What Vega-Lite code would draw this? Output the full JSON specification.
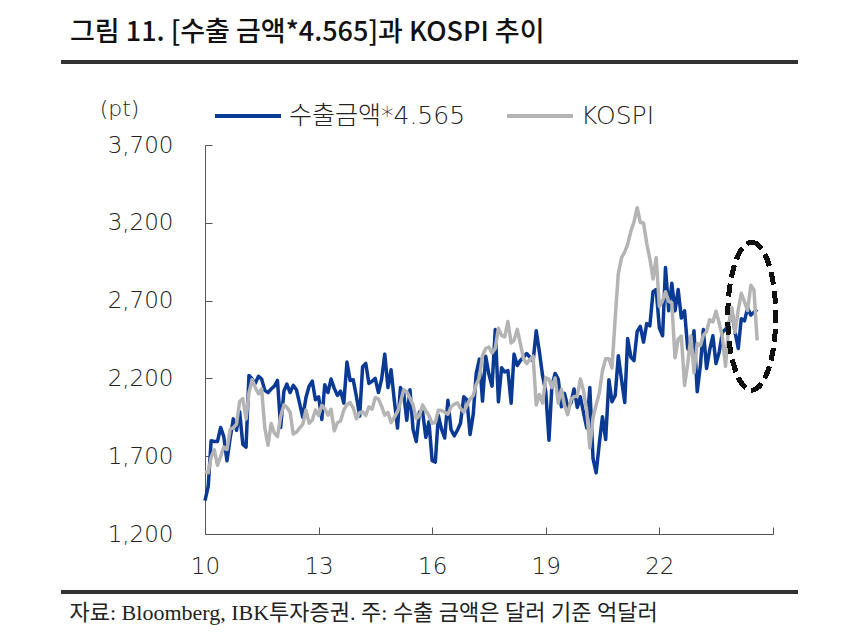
{
  "$schema": "https://vega.github.io/schema/vega-lite/v6.json",
  "width": 568,
  "height": 389,
  "autosize": {"type": "none"},
  "padding": {"left": 205, "top": 145, "right": 77, "bottom": 99},
  "background": "white",
  "config": {
    "view": {"stroke": null},
    "font": "DejaVu Sans, Noto Sans CJK KR"
  },
  "title": {
    "text": "그림 11. [수출 금액*4.565]과 KOSPI 추이",
    "anchor": "start",
    "frame": "group",
    "dx": -135,
    "dy": -10,
    "font": "Noto Sans CJK KR",
    "fontSize": 27,
    "fontWeight": 500,
    "color": "#111111"
  },
  "data": {
    "values": [
      {"date": "2010-01-01", "export": 1415, "KOSPI": 1602},
      {"date": "2010-02-01", "export": 1506, "KOSPI": 1594},
      {"date": "2010-03-01", "export": 1799, "KOSPI": 1693},
      {"date": "2010-04-01", "export": 1794, "KOSPI": 1741},
      {"date": "2010-05-01", "export": 1794, "KOSPI": 1641},
      {"date": "2010-06-01", "export": 1885, "KOSPI": 1698},
      {"date": "2010-07-01", "export": 1826, "KOSPI": 1759},
      {"date": "2010-08-01", "export": 1671, "KOSPI": 1743},
      {"date": "2010-09-01", "export": 1817, "KOSPI": 1873},
      {"date": "2010-10-01", "export": 1940, "KOSPI": 1883},
      {"date": "2010-11-01", "export": 1867, "KOSPI": 1905},
      {"date": "2010-12-01", "export": 1986, "KOSPI": 2051},
      {"date": "2011-01-01", "export": 1776, "KOSPI": 2070},
      {"date": "2011-02-01", "export": 1758, "KOSPI": 1939},
      {"date": "2011-03-01", "export": 2219, "KOSPI": 2107},
      {"date": "2011-04-01", "export": 2196, "KOSPI": 2192},
      {"date": "2011-05-01", "export": 2168, "KOSPI": 2142},
      {"date": "2011-06-01", "export": 2214, "KOSPI": 2101},
      {"date": "2011-07-01", "export": 2196, "KOSPI": 2133},
      {"date": "2011-08-01", "export": 2123, "KOSPI": 1880},
      {"date": "2011-09-01", "export": 2109, "KOSPI": 1770},
      {"date": "2011-10-01", "export": 2132, "KOSPI": 1910},
      {"date": "2011-11-01", "export": 2150, "KOSPI": 1848},
      {"date": "2011-12-01", "export": 2187, "KOSPI": 1826},
      {"date": "2012-01-01", "export": 1885, "KOSPI": 1956},
      {"date": "2012-02-01", "export": 2118, "KOSPI": 2030},
      {"date": "2012-03-01", "export": 2164, "KOSPI": 2014},
      {"date": "2012-04-01", "export": 2109, "KOSPI": 1982},
      {"date": "2012-05-01", "export": 2155, "KOSPI": 1843},
      {"date": "2012-06-01", "export": 2127, "KOSPI": 1854},
      {"date": "2012-07-01", "export": 2041, "KOSPI": 1881},
      {"date": "2012-08-01", "export": 1949, "KOSPI": 1905},
      {"date": "2012-09-01", "export": 2077, "KOSPI": 1996},
      {"date": "2012-10-01", "export": 2150, "KOSPI": 1912},
      {"date": "2012-11-01", "export": 2182, "KOSPI": 1933},
      {"date": "2012-12-01", "export": 2063, "KOSPI": 1997},
      {"date": "2013-01-01", "export": 2082, "KOSPI": 1962},
      {"date": "2013-02-01", "export": 1936, "KOSPI": 2027},
      {"date": "2013-03-01", "export": 2159, "KOSPI": 2005},
      {"date": "2013-04-01", "export": 2109, "KOSPI": 1964},
      {"date": "2013-05-01", "export": 2196, "KOSPI": 2001},
      {"date": "2013-06-01", "export": 2136, "KOSPI": 1863},
      {"date": "2013-07-01", "export": 2091, "KOSPI": 1915},
      {"date": "2013-08-01", "export": 2118, "KOSPI": 1926},
      {"date": "2013-09-01", "export": 2041, "KOSPI": 1997},
      {"date": "2013-10-01", "export": 2305, "KOSPI": 2031},
      {"date": "2013-11-01", "export": 2187, "KOSPI": 2045},
      {"date": "2013-12-01", "export": 2191, "KOSPI": 2011},
      {"date": "2014-01-01", "export": 2082, "KOSPI": 1941},
      {"date": "2014-02-01", "export": 1958, "KOSPI": 1980},
      {"date": "2014-03-01", "export": 2273, "KOSPI": 1986},
      {"date": "2014-04-01", "export": 2296, "KOSPI": 1962},
      {"date": "2014-05-01", "export": 2168, "KOSPI": 2017},
      {"date": "2014-06-01", "export": 2182, "KOSPI": 2002},
      {"date": "2014-07-01", "export": 2200, "KOSPI": 2076},
      {"date": "2014-08-01", "export": 2109, "KOSPI": 2068},
      {"date": "2014-09-01", "export": 2196, "KOSPI": 2020},
      {"date": "2014-10-01", "export": 2356, "KOSPI": 1964},
      {"date": "2014-11-01", "export": 2141, "KOSPI": 1981},
      {"date": "2014-12-01", "export": 2255, "KOSPI": 1916},
      {"date": "2015-01-01", "export": 2059, "KOSPI": 1949},
      {"date": "2015-02-01", "export": 1881, "KOSPI": 1986},
      {"date": "2015-03-01", "export": 2141, "KOSPI": 2041},
      {"date": "2015-04-01", "export": 2109, "KOSPI": 2127},
      {"date": "2015-05-01", "export": 1931, "KOSPI": 2115},
      {"date": "2015-06-01", "export": 2127, "KOSPI": 2074},
      {"date": "2015-07-01", "export": 1872, "KOSPI": 2030},
      {"date": "2015-08-01", "export": 1794, "KOSPI": 1941},
      {"date": "2015-09-01", "export": 1986, "KOSPI": 1963},
      {"date": "2015-10-01", "export": 1986, "KOSPI": 2029},
      {"date": "2015-11-01", "export": 1821, "KOSPI": 1992},
      {"date": "2015-12-01", "export": 1922, "KOSPI": 1961},
      {"date": "2016-01-01", "export": 1671, "KOSPI": 1912},
      {"date": "2016-02-01", "export": 1662, "KOSPI": 1917},
      {"date": "2016-03-01", "export": 1963, "KOSPI": 1996},
      {"date": "2016-04-01", "export": 1872, "KOSPI": 1994},
      {"date": "2016-05-01", "export": 1817, "KOSPI": 1983},
      {"date": "2016-06-01", "export": 2059, "KOSPI": 1970},
      {"date": "2016-07-01", "export": 1872, "KOSPI": 2016},
      {"date": "2016-08-01", "export": 1831, "KOSPI": 2034},
      {"date": "2016-09-01", "export": 1867, "KOSPI": 2043},
      {"date": "2016-10-01", "export": 1913, "KOSPI": 2008},
      {"date": "2016-11-01", "export": 2082, "KOSPI": 1983},
      {"date": "2016-12-01", "export": 2063, "KOSPI": 2026},
      {"date": "2017-01-01", "export": 1840, "KOSPI": 2067},
      {"date": "2017-02-01", "export": 1972, "KOSPI": 2091},
      {"date": "2017-03-01", "export": 2232, "KOSPI": 2160},
      {"date": "2017-04-01", "export": 2324, "KOSPI": 2205},
      {"date": "2017-05-01", "export": 2054, "KOSPI": 2347},
      {"date": "2017-06-01", "export": 2342, "KOSPI": 2392},
      {"date": "2017-07-01", "export": 2228, "KOSPI": 2402},
      {"date": "2017-08-01", "export": 2150, "KOSPI": 2363},
      {"date": "2017-09-01", "export": 2515, "KOSPI": 2394},
      {"date": "2017-10-01", "export": 2050, "KOSPI": 2523},
      {"date": "2017-11-01", "export": 2269, "KOSPI": 2476},
      {"date": "2017-12-01", "export": 2241, "KOSPI": 2467},
      {"date": "2018-01-01", "export": 2251, "KOSPI": 2566},
      {"date": "2018-02-01", "export": 2041, "KOSPI": 2427},
      {"date": "2018-03-01", "export": 2356, "KOSPI": 2445},
      {"date": "2018-04-01", "export": 2283, "KOSPI": 2515},
      {"date": "2018-05-01", "export": 2315, "KOSPI": 2423},
      {"date": "2018-06-01", "export": 2337, "KOSPI": 2326},
      {"date": "2018-07-01", "export": 2360, "KOSPI": 2295},
      {"date": "2018-08-01", "export": 2337, "KOSPI": 2322},
      {"date": "2018-09-01", "export": 2310, "KOSPI": 2343},
      {"date": "2018-10-01", "export": 2506, "KOSPI": 2029},
      {"date": "2018-11-01", "export": 2369, "KOSPI": 2097},
      {"date": "2018-12-01", "export": 2219, "KOSPI": 2041},
      {"date": "2019-01-01", "export": 2114, "KOSPI": 2204},
      {"date": "2019-02-01", "export": 1803, "KOSPI": 2195},
      {"date": "2019-03-01", "export": 2150, "KOSPI": 2141},
      {"date": "2019-04-01", "export": 2232, "KOSPI": 2203},
      {"date": "2019-05-01", "export": 2196, "KOSPI": 2041},
      {"date": "2019-06-01", "export": 2018, "KOSPI": 2130},
      {"date": "2019-07-01", "export": 2104, "KOSPI": 2025},
      {"date": "2019-08-01", "export": 2018, "KOSPI": 1967},
      {"date": "2019-09-01", "export": 2041, "KOSPI": 2063},
      {"date": "2019-10-01", "export": 2132, "KOSPI": 2083},
      {"date": "2019-11-01", "export": 2013, "KOSPI": 2087},
      {"date": "2019-12-01", "export": 2082, "KOSPI": 2197},
      {"date": "2020-01-01", "export": 1977, "KOSPI": 2119},
      {"date": "2020-02-01", "export": 1881, "KOSPI": 1987},
      {"date": "2020-03-01", "export": 2141, "KOSPI": 1754},
      {"date": "2020-04-01", "export": 1684, "KOSPI": 1947},
      {"date": "2020-05-01", "export": 1593, "KOSPI": 2030},
      {"date": "2020-06-01", "export": 1785, "KOSPI": 2108},
      {"date": "2020-07-01", "export": 1954, "KOSPI": 2249},
      {"date": "2020-08-01", "export": 1808, "KOSPI": 2326},
      {"date": "2020-09-01", "export": 2191, "KOSPI": 2327},
      {"date": "2020-10-01", "export": 2050, "KOSPI": 2267},
      {"date": "2020-11-01", "export": 2091, "KOSPI": 2591},
      {"date": "2020-12-01", "export": 2346, "KOSPI": 2873},
      {"date": "2021-01-01", "export": 2191, "KOSPI": 2976},
      {"date": "2021-02-01", "export": 2045, "KOSPI": 3013},
      {"date": "2021-03-01", "export": 2456, "KOSPI": 3061},
      {"date": "2021-04-01", "export": 2337, "KOSPI": 3147},
      {"date": "2021-05-01", "export": 2314, "KOSPI": 3204},
      {"date": "2021-06-01", "export": 2502, "KOSPI": 3297},
      {"date": "2021-07-01", "export": 2534, "KOSPI": 3202},
      {"date": "2021-08-01", "export": 2433, "KOSPI": 3199},
      {"date": "2021-09-01", "export": 2552, "KOSPI": 3068},
      {"date": "2021-10-01", "export": 2538, "KOSPI": 2970},
      {"date": "2021-11-01", "export": 2757, "KOSPI": 2839},
      {"date": "2021-12-01", "export": 2771, "KOSPI": 2977},
      {"date": "2022-01-01", "export": 2524, "KOSPI": 2663},
      {"date": "2022-02-01", "export": 2474, "KOSPI": 2699},
      {"date": "2022-03-01", "export": 2912, "KOSPI": 2757},
      {"date": "2022-04-01", "export": 2634, "KOSPI": 2695},
      {"date": "2022-05-01", "export": 2812, "KOSPI": 2685},
      {"date": "2022-06-01", "export": 2634, "KOSPI": 2332},
      {"date": "2022-07-01", "export": 2771, "KOSPI": 2451},
      {"date": "2022-08-01", "export": 2588, "KOSPI": 2472},
      {"date": "2022-09-01", "export": 2634, "KOSPI": 2155},
      {"date": "2022-10-01", "export": 2392, "KOSPI": 2293},
      {"date": "2022-11-01", "export": 2369, "KOSPI": 2472},
      {"date": "2022-12-01", "export": 2506, "KOSPI": 2236},
      {"date": "2023-01-01", "export": 2114, "KOSPI": 2425},
      {"date": "2023-02-01", "export": 2287, "KOSPI": 2412},
      {"date": "2023-03-01", "export": 2515, "KOSPI": 2477},
      {"date": "2023-04-01", "export": 2264, "KOSPI": 2501},
      {"date": "2023-05-01", "export": 2383, "KOSPI": 2577},
      {"date": "2023-06-01", "export": 2474, "KOSPI": 2564},
      {"date": "2023-07-01", "export": 2296, "KOSPI": 2632},
      {"date": "2023-08-01", "export": 2369, "KOSPI": 2556},
      {"date": "2023-09-01", "export": 2497, "KOSPI": 2465},
      {"date": "2023-10-01", "export": 2515, "KOSPI": 2277},
      {"date": "2023-11-01", "export": 2547, "KOSPI": 2535},
      {"date": "2023-12-01", "export": 2634, "KOSPI": 2655},
      {"date": "2024-01-01", "export": 2497, "KOSPI": 2497},
      {"date": "2024-02-01", "export": 2392, "KOSPI": 2642},
      {"date": "2024-03-01", "export": 2584, "KOSPI": 2747},
      {"date": "2024-04-01", "export": 2570, "KOSPI": 2692},
      {"date": "2024-05-01", "export": 2652, "KOSPI": 2636},
      {"date": "2024-06-01", "export": 2607, "KOSPI": 2798},
      {"date": "2024-07-01", "export": 2625, "KOSPI": 2770},
      {"date": "2024-08-01", "export": 2643, "KOSPI": 2445}
    ]
  },
  "transform": [
    {"fold": ["export", "KOSPI"], "as": ["series", "value"]}
  ],
  "layer": [
    {
      "transform": [{"filter": "datum.series === 'export'"}],
      "mark": {"type": "line", "strokeWidth": 3.5, "strokeJoin": "round"},
      "encoding": {
        "x": {
          "field": "date",
          "type": "temporal",
          "scale": {"type": "utc", "domain": [{"year": 2010, "month": 1, "date": 1, "utc": true}, {"year": 2025, "month": 1, "date": 1, "utc": true}]},
          "axis": {
            "values": [
              {"year": 2010, "month": 1, "date": 1, "utc": true},
              {"year": 2013, "month": 1, "date": 1, "utc": true},
              {"year": 2016, "month": 1, "date": 1, "utc": true},
              {"year": 2019, "month": 1, "date": 1, "utc": true},
              {"year": 2022, "month": 1, "date": 1, "utc": true},
              {"year": 2025, "month": 1, "date": 1, "utc": true}
            ],
            "labelExpr": "utcyear(datum.value) >= 2025 ? '' : '' + (utcyear(datum.value) - 2000)",
            "labelFont": "DejaVu Sans",
            "labelFontSize": 23,
            "labelFontWeight": 300,
            "labelColor": "#222222",
            "labelPadding": 28,
            "labelFlush": false,
            "labelOverlap": false,
            "tickSize": -7,
            "tickColor": "#555555",
            "domainColor": "#555555",
            "grid": false,
            "title": "자료: Bloomberg, IBK투자증권. 주: 수출 금액은 달러 기준 억달러",
            "titleFont": "Liberation Serif, Noto Sans CJK KR",
            "titleFontSize": 22,
            "titleFontWeight": "normal",
            "titleColor": "#222222",
            "titleAlign": "left",
            "titleBaseline": "middle",
            "titleX": -136,
            "titleY": 78
          }
        },
        "y": {
          "field": "value",
          "type": "quantitative",
          "scale": {"domain": [1200, 3700], "zero": false, "nice": false},
          "axis": {
            "values": [1200, 1700, 2200, 2700, 3200, 3700],
            "labelExpr": "format(datum.value, ',')",
            "labelFont": "DejaVu Sans",
            "labelFontSize": 23,
            "labelFontWeight": 300,
            "labelColor": "#222222",
            "labelPadding": 39,
            "tickSize": -7,
            "tickColor": "#555555",
            "domainColor": "#555555",
            "grid": false,
            "title": "(pt)",
            "titleFont": "DejaVu Sans",
            "titleAngle": 0,
            "titleAlign": "center",
            "titleBaseline": "middle",
            "titleX": -86,
            "titleY": -37,
            "titleFontSize": 22,
            "titleFontWeight": 300,
            "titleColor": "#222222"
          }
        },
        "color": {
          "field": "series",
          "type": "nominal",
          "scale": {"domain": ["export", "KOSPI"], "range": ["#0a3a94", "#b4b4b4"]},
          "legend": {
            "orient": "none",
            "legendX": 8,
            "legendY": -64,
            "direction": "horizontal",
            "title": null,
            "symbolType": "stroke",
            "symbolSize": 4356,
            "symbolStrokeWidth": 4,
            "labelExpr": "datum.label == 'export' ? '수출금액*4.565' : datum.label",
            "labelFont": "DejaVu Sans, Noto Sans CJK KR",
            "labelFontSize": 25,
            "labelFontWeight": 300,
            "labelColor": "#222222",
            "labelOffset": 6,
            "labelLimit": 400,
            "columnPadding": 33,
            "padding": 0
          }
        }
      }
    },
    {
      "transform": [{"filter": "datum.series === 'KOSPI'"}],
      "mark": {"type": "line", "strokeWidth": 3.5, "strokeJoin": "round"},
      "encoding": {
        "x": {"field": "date", "type": "temporal"},
        "y": {"field": "value", "type": "quantitative"},
        "color": {"field": "series", "type": "nominal"}
      }
    },
    {
      "mark": {
        "type": "point",
        "shape": "M0,-1C0.179,-1,0.324,-0.552,0.324,0C0.324,0.552,0.179,1,0,1C-0.179,1,-0.324,0.552,-0.324,0C-0.324,-0.552,-0.179,-1,0,-1Z",
        "size": 21904,
        "filled": false,
        "stroke": "#111111",
        "strokeWidth": 4,
        "strokeDash": [12, 7],
        "opacity": 1
      },
      "encoding": {
        "x": {"datum": {"year": 2024, "month": 6, "date": 10, "utc": true}, "type": "temporal"},
        "y": {"datum": 2600, "type": "quantitative"}
      }
    },
    {
      "mark": {"type": "rule", "strokeWidth": 3, "color": "#333333"},
      "encoding": {
        "x": {"datum": {"year": 2006, "month": 3, "date": 20, "utc": true}, "type": "temporal"},
        "x2": {"datum": {"year": 2025, "month": 8, "date": 28, "utc": true}},
        "y": {"datum": 4233, "type": "quantitative"}
      }
    },
    {
      "mark": {"type": "rule", "strokeWidth": 2.5, "color": "#333333"},
      "encoding": {
        "x": {"datum": {"year": 2006, "month": 3, "date": 20, "utc": true}, "type": "temporal"},
        "x2": {"datum": {"year": 2025, "month": 8, "date": 28, "utc": true}},
        "y": {"datum": 827, "type": "quantitative"}
      }
    }
  ]
}
